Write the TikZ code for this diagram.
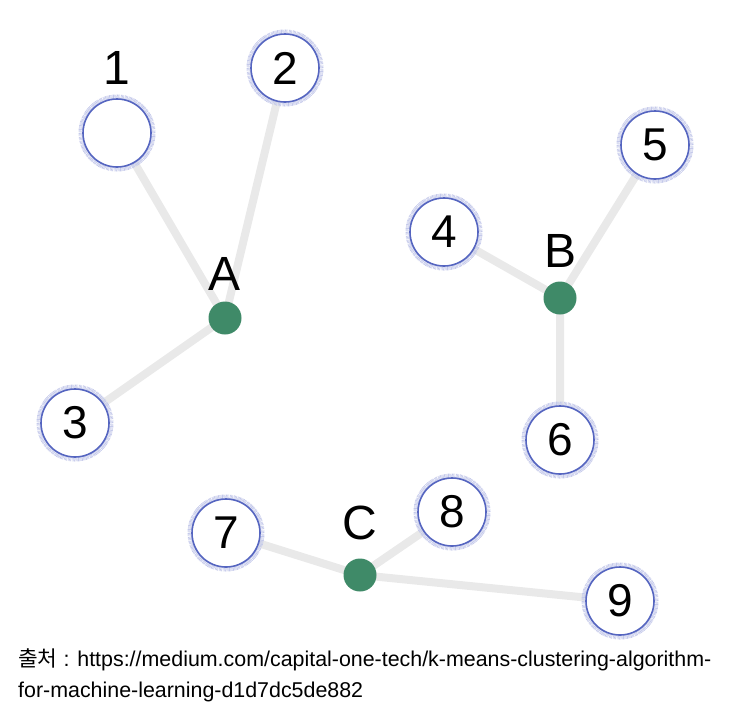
\documentclass[tikz,border=0pt]{standalone}
\usepackage{fontspec}
\setmainfont{Liberation Sans}
\newfontfamily\krfont{Noto Sans CJK KR}
\definecolor{edgegray}{HTML}{E9E9E9}
\definecolor{ringblue}{HTML}{5565C0}
\definecolor{haloblue}{HTML}{C4C9EA}
\definecolor{cgreen}{HTML}{3F8A68}
\tikzset{
  pt/.style={circle, minimum size=68pt, inner sep=0pt, fill=white, draw=ringblue, line width=1.6pt,
    preaction={draw=haloblue, line width=9pt, dash pattern=on 0.6pt off 0.6pt}, font=\fontsize{46}{46}\selectfont},
  centroid/.style={circle, minimum size=33pt, inner sep=0pt, fill=cgreen},
  lbl/.style={font=\fontsize{48}{48}\selectfont, inner sep=0pt},
  edge/.style={draw=edgegray, line width=8pt}
}
\begin{document}
\begin{tikzpicture}[x=1pt,y=-1pt]
\useasboundingbox (0,0) rectangle (743,710);
\coordinate (A) at (225,318);
\coordinate (B) at (560,298);
\coordinate (C) at (360,575);
\coordinate (p1) at (117,133);
\coordinate (p2) at (285,68);
\coordinate (p3) at (75,423);
\coordinate (p4) at (444,232);
\coordinate (p5) at (655,145);
\coordinate (p6) at (560,440);
\coordinate (p7) at (226,533);
\coordinate (p8) at (452,512);
\coordinate (p9) at (620,601);
\path[edge] (p1) -- (A) (p2) -- (A) (p3) -- (A)
  (p4) -- (B) (p5) -- (B) (p6) -- (B)
  (p7) -- (C) (p8) -- (C) (p9) -- (C);
\node[centroid] (cA) at (A) {};
\node[centroid] (cB) at (B) {};
\node[centroid] (cC) at (C) {};
\node[lbl] (lA) at (225,274) {A};
\node[lbl] (lB) at (560,251) {B};
\node[lbl] (lC) at (360,523) {C};
\node[pt] (n1) at (p1) {};
\node[pt] (n2) at (p2) {2};
\node[pt] (n3) at (p3) {3};
\node[pt] (n4) at (p4) {4};
\node[pt] (n5) at (p5) {5};
\node[pt] (n6) at (p6) {6};
\node[pt] (n7) at (p7) {7};
\node[pt] (n8) at (p8) {8};
\node[pt] (n9) at (p9) {9};
\node[lbl] (l1) at (117,68) {1};
\node[anchor=north west, align=left, inner sep=0pt, font=\fontsize{21.4}{31}\selectfont] (cap) at (18,648)
  {{\krfont 출처} : https://medium.com/capital-one-tech/k-means-clustering-algorithm-\\
   for-machine-learning-d1d7dc5de882};
\end{tikzpicture}
\end{document}
